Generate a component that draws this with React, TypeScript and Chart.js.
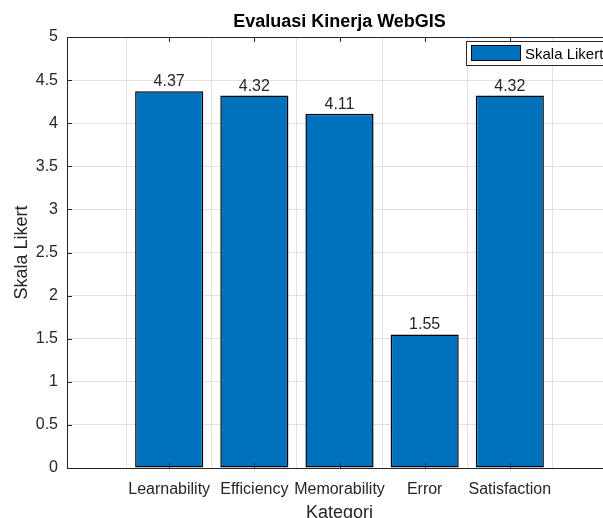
import React, { useEffect, useRef } from "react";
import { Chart, registerables } from "chart.js";

Chart.register(...registerables);

const categories = ["Learnability", "Efficiency", "Memorability", "Error", "Satisfaction"];
const values = [4.37, 4.32, 4.11, 1.55, 4.32];
const seriesName = "Skala Likert";
const titleText = "Evaluasi Kinerja WebGIS";
const xTitle = "Kategori";
const yTitle = "Skala Likert";

const FONT = '"Liberation Sans", Arial, Helvetica, sans-serif';
const TXT = "#262626";
const BAR = "#0072BD";

const decor = {
  id: "matlabDecor",
  afterDatasetsDraw(chart: any) {
    const { ctx, chartArea, scales } = chart;
    const x = scales.x;
    const y = scales.y;
    ctx.save();
    const meta = chart.getDatasetMeta(0);
    ctx.fillStyle = TXT;
    ctx.font = `16px ${FONT}`;
    ctx.textAlign = "center";
    ctx.textBaseline = "alphabetic";
    meta.data.forEach((el: any, i: number) => {
      ctx.fillText(values[i].toFixed(2), el.x, el.y - 5);
    });
    ctx.strokeStyle = TXT;
    ctx.lineWidth = 1;
    ctx.beginPath();
    ctx.moveTo(chartArea.left, chartArea.top + 0.5);
    ctx.lineTo(chartArea.right, chartArea.top + 0.5);
    ctx.moveTo(chartArea.left + 0.5, chartArea.top);
    ctx.lineTo(chartArea.left + 0.5, chartArea.bottom);
    ctx.moveTo(chartArea.left, chartArea.bottom + 0.5);
    ctx.lineTo(chartArea.right, chartArea.bottom + 0.5);
    categories.forEach((_, i) => {
      const px = Math.round(x.getPixelForValue(i)) + 0.5;
      ctx.moveTo(px, chartArea.top);
      ctx.lineTo(px, chartArea.top + 5);
      ctx.moveTo(px, chartArea.bottom);
      ctx.lineTo(px, chartArea.bottom - 5);
    });
    y.ticks.forEach((t: any) => {
      const py = Math.round(y.getPixelForValue(t.value)) + 0.5;
      ctx.moveTo(chartArea.left, py);
      ctx.lineTo(chartArea.left + 5, py);
    });
    ctx.stroke();
    ctx.restore();
  },
  afterDraw(chart: any) {
    const { ctx, chartArea } = chart;
    const cx = (chartArea.left + chartArea.right) / 2;
    const cy = (chartArea.top + chartArea.bottom) / 2;
    ctx.save();
    ctx.fillStyle = "#000";
    ctx.textAlign = "center";
    ctx.textBaseline = "alphabetic";
    ctx.font = `bold 18px ${FONT}`;
    ctx.fillText(titleText, cx, chartArea.top - 10);
    ctx.fillStyle = TXT;
    ctx.font = `18px ${FONT}`;
    ctx.fillText(xTitle, cx, chartArea.bottom + 50);
    ctx.save();
    ctx.translate(chartArea.left - 40, cy);
    ctx.rotate(-Math.PI / 2);
    ctx.fillText(yTitle, 0, 0);
    ctx.restore();
    const lx = chartArea.right - 146;
    const ly = chartArea.top + 4;
    ctx.fillStyle = "#fff";
    ctx.fillRect(lx, ly, 145, 24);
    ctx.strokeStyle = TXT;
    ctx.lineWidth = 1;
    ctx.strokeRect(lx + 0.5, ly + 0.5, 145, 24);
    ctx.fillStyle = BAR;
    ctx.fillRect(lx + 5, ly + 4, 50, 16);
    ctx.strokeStyle = "#000";
    ctx.strokeRect(lx + 5.5, ly + 4.5, 49, 15);
    ctx.fillStyle = "#000";
    ctx.textAlign = "left";
    ctx.font = `15px ${FONT}`;
    ctx.fillText(seriesName, lx + 59, ly + 17.5);
    ctx.restore();
  },
};

export default function App() {
  const ref = useRef<HTMLCanvasElement | null>(null);
  useEffect(() => {
    if (!ref.current) return;
    const chart = new Chart(ref.current, {
      type: "bar",
      data: {
        datasets: [
          {
            label: seriesName,
            data: values.map((v, i) => ({ x: i, y: v })),
            backgroundColor: BAR,
            borderColor: "#000",
            borderWidth: 1.5,
            borderSkipped: false,
            categoryPercentage: 1,
            barPercentage: 0.8,
          } as any,
        ],
      },
      options: {
        animation: false,
        responsive: false,
        maintainAspectRatio: false,
        devicePixelRatio: 1,
        layout: { padding: { left: 0, top: 37, right: 8, bottom: 0 } },
        plugins: {
          legend: { display: false },
          title: { display: false },
          tooltip: { enabled: false },
        },
        scales: {
          x: {
            type: "linear",
            min: -1.2,
            max: 5.2,
            offset: false,
            afterBuildTicks: (s: any) => {
              s.ticks = categories.map((_, i) => ({ value: i }));
            },
            afterFit: (s: any) => {
              s.height = 50;
            },
            ticks: {
              autoSkip: false,
              maxRotation: 0,
              minRotation: 0,
              padding: 12,
              color: TXT,
              font: { family: FONT, size: 16 },
              callback: (v: any) => categories[v as number] ?? "",
            },
            grid: { color: "#e1e1e1", drawTicks: false },
            border: { display: false },
          },
          y: {
            type: "linear",
            min: 0,
            max: 5,
            afterFit: (s: any) => {
              s.width = 67;
            },
            ticks: {
              stepSize: 0.5,
              padding: 9,
              color: TXT,
              font: { family: FONT, size: 16 },
              callback: (v: any) => String(Math.round(Number(v) * 10) / 10),
            },
            grid: { color: "#e1e1e1", drawTicks: false },
            border: { display: false },
          },
        },
      },
      plugins: [decor],
    });
    return () => chart.destroy();
  }, []);
  return (
    <div
      style={{
        position: "fixed",
        left: 0,
        top: 0,
        width: 603,
        height: 518,
        overflow: "hidden",
        background: "#fff",
      }}
    >
      <canvas ref={ref} width={620} height={518} style={{ display: "block" }} />
    </div>
  );
}
